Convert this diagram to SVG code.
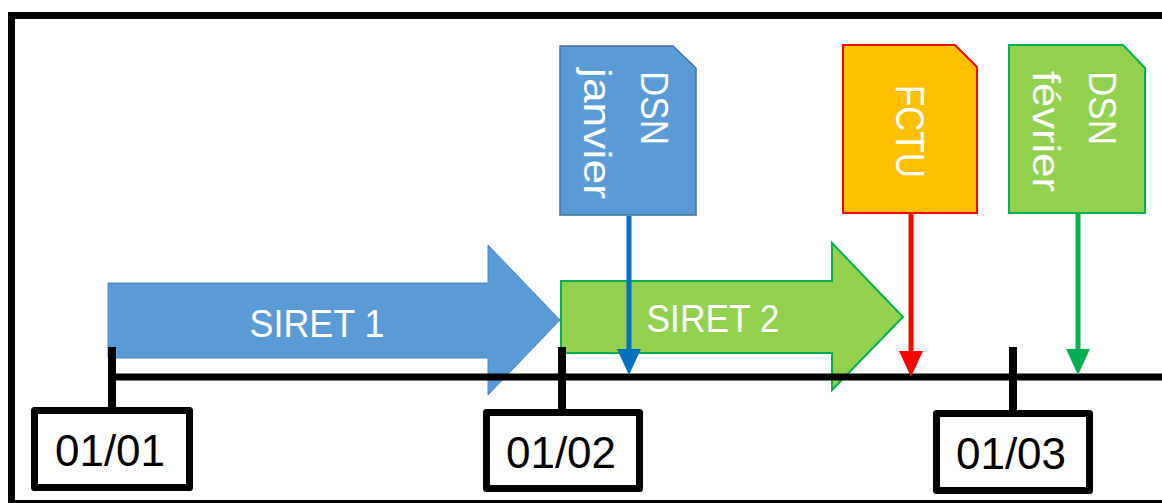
<svg xmlns="http://www.w3.org/2000/svg" width="1162" height="503" viewBox="0 0 1162 503">
  <style>
    .txt { font-family: "Liberation Sans", Arial, sans-serif; }
    .wt { fill: #FFFFFF; }
    .date { fill: #000000; font-size: 44px; text-anchor: middle; }
    .dbox { fill: #FFFFFF; stroke: #000000; stroke-width: 7; stroke-linejoin: round; }
    .tick { stroke: #000000; stroke-width: 8; fill: none; }
  </style>
  <defs>
    <marker id="mBlue" markerWidth="26" markerHeight="24" refX="15" refY="12" orient="auto" markerUnits="userSpaceOnUse" viewBox="0 0 26 24">
      <path d="M0,0 L26,12 L0,24 Z" fill="#0070C0"/>
    </marker>
    <marker id="mRed" markerWidth="26" markerHeight="24" refX="15" refY="12" orient="auto" markerUnits="userSpaceOnUse" viewBox="0 0 26 24">
      <path d="M0,0 L26,12 L0,24 Z" fill="#FF0000"/>
    </marker>
    <marker id="mGreen" markerWidth="26" markerHeight="24" refX="15" refY="12" orient="auto" markerUnits="userSpaceOnUse" viewBox="0 0 26 24">
      <path d="M0,0 L26,12 L0,24 Z" fill="#00B050"/>
    </marker>
  </defs>

  <rect x="0" y="0" width="1162" height="503" fill="#FFFFFF"/>
  <!-- frame -->
  <rect x="11.5" y="15.5" width="1200" height="488" fill="none" stroke="#000000" stroke-width="7"/>

  <!-- SIRET arrows -->
  <g id="siret1">
    <path d="M108,283 L488,283 L488,245 L560,320 L488,395 L488,358 L108,358 Z" fill="#5B9BD5" stroke="#4A86C5" stroke-width="1"/>
    <text class="txt wt" x="317" y="337" font-size="38" text-anchor="middle" textLength="135" lengthAdjust="spacingAndGlyphs">SIRET 1</text>
  </g>
  <g id="siret2">
    <path d="M561,281 L832,281 L832,243 L903,317 L832,390 L832,353 L561,353 Z" fill="#92D050" stroke="#00B050" stroke-width="2"/>
    <text class="txt wt" x="713" y="332" font-size="38" text-anchor="middle" textLength="133" lengthAdjust="spacingAndGlyphs">SIRET 2</text>
  </g>

  <!-- documents -->
  <g id="dsn-janvier">
    <path d="M560,46 L673,46 L696,68 L696,215 L560,215 Z" fill="#5B9BD5" stroke="#41719C" stroke-width="1.5"/>
    <g transform="translate(641,71) rotate(90)">
      <text class="txt wt" x="0" y="0" font-size="38" textLength="74" lengthAdjust="spacingAndGlyphs">DSN</text>
      <text class="txt wt" x="-3" y="57" font-size="38" textLength="131" lengthAdjust="spacingAndGlyphs">janvier</text>
    </g>
  </g>
  <g id="fctu">
    <path d="M843,45 L955,45 L977,67 L977,213 L843,213 Z" fill="#FFC000" stroke="#FF0000" stroke-width="2"/>
    <g transform="translate(896,85) rotate(90)">
      <text class="txt wt" x="0" y="0" font-size="40" textLength="93" lengthAdjust="spacingAndGlyphs">FCTU</text>
    </g>
  </g>
  <g id="dsn-fevrier">
    <path d="M1009,45 L1123,45 L1145,68 L1145,213 L1009,213 Z" fill="#92D050" stroke="#00B050" stroke-width="2"/>
    <g transform="translate(1089,71) rotate(90)">
      <text class="txt wt" x="0" y="0" font-size="38" textLength="74" lengthAdjust="spacingAndGlyphs">DSN</text>
      <text class="txt wt" x="0" y="56" font-size="38" textLength="121" lengthAdjust="spacingAndGlyphs">février</text>
    </g>
  </g>

  <!-- connectors -->
  <g id="connectors">
    <line x1="108" y1="377" x2="1162" y2="377" stroke="#000000" stroke-width="7"/>
    <line x1="629" y1="216" x2="629" y2="364" stroke="#0070C0" stroke-width="5" marker-end="url(#mBlue)"/>
    <line x1="911" y1="214" x2="911" y2="366" stroke="#FF0000" stroke-width="5" marker-end="url(#mRed)"/>
    <line x1="1078" y1="214" x2="1078" y2="364" stroke="#00B050" stroke-width="5" marker-end="url(#mGreen)"/>
    <line class="tick" x1="112" y1="347" x2="112" y2="410"/>
    <line class="tick" x1="562" y1="347" x2="562" y2="412"/>
    <line class="tick" x1="1013" y1="347" x2="1013" y2="413"/>
  </g>

  <!-- date nodes -->
  <g id="d0101">
    <rect class="dbox" x="34.5" y="410.5" width="155" height="77"/>
    <text class="txt date" x="110" y="466">01/01</text>
  </g>
  <g id="d0102">
    <rect class="dbox" x="486.5" y="412.5" width="153" height="76"/>
    <text class="txt date" x="561" y="468">01/02</text>
  </g>
  <g id="d0103">
    <rect class="dbox" x="936.5" y="413.5" width="153" height="77"/>
    <text class="txt date" x="1011" y="469">01/03</text>
  </g>
</svg>
